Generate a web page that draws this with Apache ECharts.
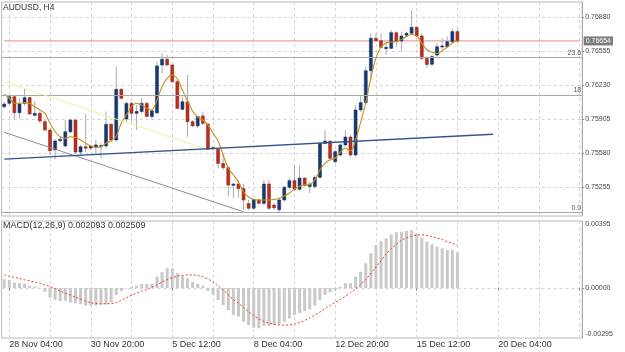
<!DOCTYPE html>
<html><head><meta charset="utf-8">
<script src="https://cdn.jsdelivr.net/npm/echarts@6/dist/echarts.min.js"></script>
<style>html,body{margin:0;padding:0;background:#fff}#c{width:625px;height:352px}</style>
</head><body><div id="c"></div>
<script>
// ---- data (H4 bars, index 0 = 28 Nov 00:00) ----
const barOpen  = [0.76025,0.76058,0.76121,0.75968,0.76058,0.76112,0.75943,0.75962,0.75882,0.75803,0.75612,0.75700,0.75650,0.75786,0.75898,0.75592,0.75643,0.75631,0.75638,0.75643,0.75650,0.75858,0.75707,0.76192,0.75908,0.76057,0.75962,0.75980,0.76057,0.75932,0.75966,0.76424,0.76479,0.76424,0.76265,0.76000,0.76073,0.75882,0.75842,0.75937,0.75860,0.75622,0.75619,0.75483,0.75443,0.75274,0.75287,0.75243,0.75100,0.75055,0.75134,0.75102,0.75287,0.75086,0.75041,0.75134,0.75255,0.75320,0.75236,0.75344,0.75263,0.75263,0.75350,0.75675,0.75697,0.75500,0.75564,0.75660,0.75736,0.75564,0.75994,0.76064,0.76369,0.76679,0.76656,0.76580,0.76583,0.76733,0.76653,0.76708,0.76727,0.76785,0.76701,0.76488,0.76431,0.76519,0.76599,0.76599,0.76647,0.76743];
const barHigh  = [0.76073,0.76137,0.76137,0.76106,0.76201,0.76121,0.76080,0.75978,0.75898,0.75819,0.75717,0.75739,0.75898,0.75914,0.75905,0.75660,0.75956,0.75660,0.75707,0.75679,0.75978,0.75866,0.76408,0.76202,0.76073,0.76073,0.76041,0.76108,0.76070,0.75994,0.76458,0.76536,0.76519,0.76440,0.76281,0.76121,0.76328,0.75898,0.75937,0.75978,0.75866,0.75650,0.75628,0.75580,0.75452,0.75293,0.75325,0.75293,0.75134,0.75150,0.75150,0.75325,0.75325,0.75102,0.75163,0.75268,0.75344,0.75468,0.75458,0.75350,0.75309,0.75372,0.75691,0.75803,0.75707,0.75612,0.75675,0.75803,0.75755,0.76041,0.76137,0.76408,0.76727,0.76727,0.76727,0.76647,0.76759,0.76743,0.76743,0.76743,0.76950,0.76791,0.76727,0.76504,0.76519,0.76631,0.76680,0.76695,0.76775,0.76765];
const barLow   = [0.76010,0.76042,0.75908,0.75915,0.76032,0.75946,0.75930,0.75867,0.75796,0.75564,0.75523,0.75688,0.75638,0.75771,0.75574,0.75564,0.75593,0.75612,0.75564,0.75535,0.75628,0.75691,0.75691,0.76096,0.75869,0.75882,0.75803,0.75962,0.75924,0.75905,0.75961,0.76345,0.76414,0.76249,0.76000,0.75994,0.75739,0.75829,0.75819,0.75850,0.75612,0.75612,0.75436,0.75420,0.75172,0.75150,0.75153,0.75038,0.75038,0.75038,0.75096,0.75086,0.75038,0.75038,0.75019,0.75118,0.75239,0.75220,0.75220,0.75263,0.75197,0.75245,0.75341,0.75669,0.75516,0.75484,0.75548,0.75650,0.75548,0.75548,0.75978,0.76057,0.76281,0.76647,0.76583,0.76519,0.76574,0.76599,0.76551,0.76701,0.76711,0.76695,0.76472,0.76395,0.76414,0.76504,0.76567,0.76583,0.76631,0.76637];
const barClose = [0.76051,0.76121,0.75968,0.76051,0.76112,0.75956,0.75962,0.75889,0.75803,0.75605,0.75698,0.75714,0.75786,0.75898,0.75592,0.75643,0.75628,0.75650,0.75660,0.75655,0.75858,0.75707,0.76192,0.76106,0.76057,0.75962,0.75980,0.76057,0.75932,0.75986,0.76415,0.76479,0.76424,0.76265,0.76010,0.76073,0.75882,0.75842,0.75932,0.75866,0.75619,0.75634,0.75483,0.75443,0.75277,0.75287,0.75243,0.75134,0.75055,0.75139,0.75102,0.75287,0.75055,0.75060,0.75134,0.75255,0.75318,0.75234,0.75344,0.75272,0.75284,0.75350,0.75675,0.75697,0.75532,0.75596,0.75660,0.75736,0.75564,0.75994,0.76064,0.76369,0.76679,0.76656,0.76593,0.76593,0.76733,0.76647,0.76701,0.76727,0.76784,0.76701,0.76488,0.76429,0.76504,0.76599,0.76606,0.76647,0.76743,0.76654];
const maValues = [0.76144,0.76106,0.76058,0.76058,0.76064,0.76058,0.76025,0.75994,0.75962,0.75867,0.75786,0.75739,0.75723,0.75739,0.75733,0.75707,0.75676,0.75650,0.75637,0.75643,0.75676,0.75700,0.75745,0.75870,0.75946,0.76025,0.76058,0.76042,0.76010,0.75994,0.76090,0.76217,0.76297,0.76328,0.76290,0.76185,0.76080,0.75984,0.75927,0.75898,0.75851,0.75774,0.75698,0.75564,0.75440,0.75373,0.75306,0.75210,0.75162,0.75138,0.75134,0.75134,0.75134,0.75138,0.75148,0.75172,0.75201,0.75239,0.75266,0.75277,0.75282,0.75325,0.75420,0.75487,0.75516,0.75535,0.75592,0.75631,0.75602,0.75707,0.75879,0.76061,0.76300,0.76491,0.76596,0.76635,0.76644,0.76649,0.76668,0.76697,0.76716,0.76701,0.76635,0.76567,0.76547,0.76533,0.76558,0.76596,0.76635,0.76656];
const macdHist = [0.00051,0.00047,0.00031,0.00028,0.00026,0.00014,0.00008,-0.00002,-0.00022,-0.00057,-0.00071,-0.00077,-0.00077,-0.00085,-0.00090,-0.00096,-0.00104,-0.00104,-0.00104,-0.00100,-0.00096,-0.00085,-0.00041,-0.00018,-0.00002,0.00008,0.00014,0.00024,0.00024,0.00024,0.00067,0.00093,0.00116,0.00116,0.00087,0.00073,0.00057,0.00037,0.00024,0.00014,-0.00018,-0.00037,-0.00071,-0.00100,-0.00130,-0.00159,-0.00169,-0.00199,-0.00218,-0.00234,-0.00238,-0.00224,-0.00224,-0.00218,-0.00214,-0.00199,-0.00179,-0.00159,-0.00149,-0.00136,-0.00126,-0.00104,-0.00071,-0.00041,-0.00026,-0.00012,0.00006,0.00028,0.00028,0.00067,0.00096,0.00146,0.00205,0.00254,0.00277,0.00293,0.00317,0.00329,0.00332,0.00336,0.00342,0.00323,0.00297,0.00273,0.00258,0.00244,0.00234,0.00224,0.00224,0.002093];
const macdSignal = [0.00077,0.00069,0.00063,0.00056,0.00048,0.00042,0.00035,0.00028,0.00018,0.00008,-0.00005,-0.00018,-0.00030,-0.00042,-0.00054,-0.00066,-0.00078,-0.00087,-0.00091,-0.00093,-0.00093,-0.00092,-0.00087,-0.00073,-0.00058,-0.00043,-0.00030,-0.00018,-0.00010,0.00004,0.00018,0.00035,0.00050,0.00061,0.00070,0.00075,0.00077,0.00077,0.00073,0.00066,0.00052,0.00037,0.00014,-0.00012,-0.00040,-0.00068,-0.00090,-0.00116,-0.00140,-0.00163,-0.00183,-0.00197,-0.00208,-0.00214,-0.00218,-0.00219,-0.00218,-0.00213,-0.00204,-0.00192,-0.00176,-0.00160,-0.00142,-0.00122,-0.00103,-0.00085,-0.00068,-0.00048,-0.00028,-0.00005,0.00020,0.00050,0.00085,0.00125,0.00160,0.00200,0.00232,0.00258,0.00280,0.00296,0.00306,0.00312,0.00313,0.00310,0.00304,0.00294,0.00286,0.00273,0.00263,0.002509];
const xTickLabels = ['28 Nov 04:00','30 Nov 20:00','5 Dec 12:00','8 Dec 04:00','12 Dec 20:00','15 Dec 12:00','20 Dec 04:00'];
const priceTicks = [0.75255,0.75580,0.75905,0.76230,0.76555,0.76880];
const macdTicks = [-0.00295,0,0.00395];
const bidPrice = 0.76654;
const fibValues = [0.76494,0.76137,0.75016];
const fibLabels = ['23.6','18','0.0'];
// trend lines: [startIndex, startPrice, endIndex, endPrice]
const trendYellow = [0,0.76264,39,0.75631];
const trendGray   = [0,0.75781,47,0.75021];
const trendBlue   = [0,0.75524,96,0.75762];

// ---- chart ----
const N = 114;
const cats = Array.from({length:N},(_,i)=>String(i));
function labelAt(i){const k=(i-1)/16;return (Number.isInteger(k)&&k>=0&&k<xTickLabels.length)?xTickLabels[k]:'';}
const vGrid = {show:true, interval:(i)=>(i-1)%8===0, alignWithLabel:true, lineStyle:{color:'#d4d4d4', type:[3,3], width:1}};
const font = 'Liberation Sans, Arial, sans-serif';

function seg(t, color, width){return [{coord:[t[0],t[1]], lineStyle:{color:color,width:width,type:'solid'}, label:{show:false}},{coord:[t[2],t[3]], label:{show:false}}];}

const chart = echarts.init(document.getElementById('c'), null, {renderer:'canvas'});
chart.setOption({
  animation:false,
  textStyle:{fontFamily:font},
  title:[
    {text:'AUDUSD, H4', left:3, top:3.5, padding:0, textStyle:{fontSize:8.5, fontWeight:'normal', color:'#333', fontFamily:font}},
    {text:'MACD(12,26,9) 0.002093 0.002509', left:3, top:221.5, padding:0, textStyle:{fontSize:9, fontWeight:'normal', color:'#333', fontFamily:font}}
  ],
  grid:[
    {left:1.65, top:2, width:580.55, height:214, show:true, borderColor:'#b8b8b8', borderWidth:1, containLabel:false},
    {left:1.65, top:221, width:580.55, height:117, show:true, borderColor:'#b8b8b8', borderWidth:1, containLabel:false}
  ],
  xAxis:[
    {type:'category', gridIndex:0, data:cats, boundaryGap:true, axisLine:{show:false}, axisTick:{show:false}, axisLabel:{show:false}, splitLine:vGrid},
    {type:'category', gridIndex:1, data:cats, boundaryGap:true, axisLine:{show:false},
     axisTick:{show:true, interval:(i)=>(i-1)%16===0, alignWithLabel:true, length:3, lineStyle:{color:'#999'}},
     axisLabel:{show:true, interval:(i)=>(i-1)%16===0, formatter:(v,i)=>labelAt(i), align:'left', fontSize:9, color:'#333', margin:2, fontFamily:font},
     splitLine:vGrid}
  ],
  yAxis:[
    {type:'value', gridIndex:0, position:'right', min:0.74981, max:0.77026,
     axisLine:{show:true, lineStyle:{color:'#a8a8a8'}},
     axisTick:{show:true, customValues:priceTicks, length:2, lineStyle:{color:'#888'}},
     axisLabel:{customValues:priceTicks, formatter:(v)=>v.toFixed(5), fontSize:7, color:'#444', margin:3, fontFamily:font},
     splitLine:{show:true, lineStyle:{color:'#d4d4d4', type:[3,3]}}},
    {type:'value', gridIndex:1, position:'right', min:-0.00295, max:0.00395,
     axisLine:{show:true, lineStyle:{color:'#a8a8a8'}},
     axisTick:{show:true, customValues:[0], length:2, lineStyle:{color:'#888'}},
     axisLabel:{customValues:macdTicks, formatter:(v)=>v.toFixed(5), fontSize:7, color:'#444', margin:3, fontFamily:font,
       verticalAlignMinLabel:'bottom', verticalAlignMaxLabel:'top'},
     splitLine:{show:true, lineStyle:{color:'#d4d4d4', type:[3,3]}}}
  ],
  series:[
    {type:'line', name:'Lines', xAxisIndex:0, yAxisIndex:0, data:[], symbol:'none', z:1,
     markLine:{silent:true, symbol:'none', animation:false, precision:5,
       data:[
         ...fibValues.map((v,k)=>({yAxis:v, lineStyle:{color:'#a8a8a8', width:1, type:'solid'},
            label:{show:true, position:'insideEndTop', formatter:fibLabels[k], fontSize:7, color:'#555', distance:1, fontFamily:font}})),
         seg(trendYellow,'#f4eea0',1),
         seg(trendGray,'#8c8c8c',1),
         seg(trendBlue,'#34548c',1.3)
       ]
     }},
    {type:'line', name:'Bid', xAxisIndex:0, yAxisIndex:0, z:1, symbol:'none', silent:true,
     data:[[0,bidPrice],[N-1,bidPrice]],
     lineStyle:{color:'#ee8888', width:1},
     endLabel:{show:true, formatter:()=>bidPrice.toFixed(5), fontSize:7, color:'#fff', backgroundColor:'#7c7c7c', padding:[1,2,1,2], distance:4, fontFamily:font}
    },
    {type:'custom', name:'AUDUSD', xAxisIndex:0, yAxisIndex:0, z:2,
     data:barOpen.map((o,i)=>[i,o,barClose[i],barLow[i],barHigh[i]]),
     encode:{x:0, y:[1,2,3,4]},
     renderItem:function(params, api){
       const i=api.value(0), o=api.value(1), c=api.value(2), l=api.value(3), h=api.value(4);
       const pO=api.coord([i,o]), pC=api.coord([i,c]), pL=api.coord([i,l]), pH=api.coord([i,h]);
       const x=pO[0];
       const top=Math.min(pO[1],pC[1]), bot=Math.max(pO[1],pC[1]);
       const bull=c>=o;
       return {type:'group', children:[
         {type:'line', shape:{x1:x,y1:pH[1],x2:x,y2:pL[1]}, style:{stroke:'#ababab', lineWidth:1}},
         {type:'rect', shape:{x:x-1.5,y:top,width:3,height:Math.max(1,bot-top)}, style:{fill: bull?'#183a72':'#b8301f', stroke: bull?'#10295a':'#8f2012', lineWidth:0.5}}
       ]};
     }},
    {type:'line', name:'MA', xAxisIndex:0, yAxisIndex:0, data:maValues, symbol:'none', smooth:0.3,
     lineStyle:{color:'#c8901e', width:1.1}, z:3},
    {type:'bar', name:'MACD', xAxisIndex:1, yAxisIndex:1, data:macdHist, barWidth:3, itemStyle:{color:'#c9c9c9'}},
    {type:'line', name:'Signal', xAxisIndex:1, yAxisIndex:1, data:macdSignal, symbol:'none', smooth:0.3,
     lineStyle:{color:'#e5412d', width:1, type:[2,2]}}
  ]
});
</script>
</body></html>
